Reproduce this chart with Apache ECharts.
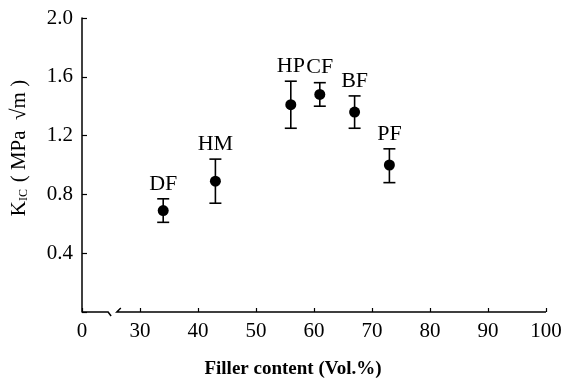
<!DOCTYPE html>
<html>
<head>
<meta charset="utf-8">
<script src="https://cdn.jsdelivr.net/npm/echarts@6/dist/echarts.min.js"></script>
<style>
  html, body { margin: 0; padding: 0; background: #fff; }
  #chart { width: 576px; height: 384px; }
</style>
</head>
<body>
<div id="chart"></div>
<script>
// filler types, filler content (vol.%) and fracture toughness K_IC (MPa sqrt m)
var fillers = ['DF', 'HM', 'HP', 'CF', 'BF', 'PF'];
var content = [34, 43, 56, 61, 67, 73];
var kic = [0.69, 0.89, 1.41, 1.48, 1.36, 1.00];
var kicLow = [0.61, 0.74, 1.25, 1.40, 1.25, 0.88];
var kicHigh = [0.77, 1.04, 1.57, 1.56, 1.47, 1.11];
var xTicks = [20, 30, 40, 50, 60, 70, 80, 90, 100];
var yTicks = [0, 0.4, 0.8, 1.2, 1.6, 2.0];
// where the x axis is broken (the part between 0 and 30 is left out)
var xBreak = [24.5, 26.0];

var font = 'Liberation Serif';
var points = [];
var bars = [];
for (var i = 0; i < fillers.length; i++) {
  points.push([content[i], kic[i]]);
  bars.push([content[i], kicLow[i], kicHigh[i], fillers[i]]);
}

var chart = echarts.init(document.getElementById('chart'));
var option = {
  animation: false,
  grid: { left: 82, right: 30, top: 18, bottom: 70 },
  xAxis: {
    type: 'value',
    min: xTicks[0],
    max: xTicks[xTicks.length - 1],
    interval: 10,
    name: 'Filler content (Vol.%)',
    nameLocation: 'middle',
    nameGap: 48,
    nameTextStyle: {
      fontFamily: font, fontSize: 19, fontWeight: 'bold', color: '#000',
      padding: [0, 42, 0, 0]
    },
    axisLine: { show: false },
    axisTick: { inside: true, length: 4, lineStyle: { color: '#000', width: 1.2 } },
    axisLabel: {
      fontFamily: font, fontSize: 21, color: '#000', margin: 9,
      formatter: function(v) { return v === xTicks[0] ? '0' : String(v); }
    },
    splitLine: { show: false }
  },
  yAxis: {
    type: 'value',
    min: yTicks[0],
    max: yTicks[yTicks.length - 1],
    interval: 0.4,
    name: '{k|K}{s|IC}  {n|( MPa  √m )}',
    nameLocation: 'middle',
    nameGap: 52,
    nameRotate: 90,
    nameTextStyle: {
      color: '#000',
      padding: [0, 0, 0, 34],
      rich: {
        k: { fontFamily: font, fontSize: 21, color: '#000' },
        s: { fontFamily: font, fontSize: 12, color: '#000', padding: [8, 0, 0, 0] },
        n: { fontFamily: font, fontSize: 21, color: '#000' }
      }
    },
    axisLine: { show: true, lineStyle: { color: '#000', width: 1.5 } },
    axisTick: { inside: true, length: 5, lineStyle: { color: '#000', width: 1.2 } },
    axisLabel: {
      fontFamily: font, fontSize: 21, color: '#000', margin: 9,
      formatter: function(v) { return v === 0 ? '' : v.toFixed(1); }
    },
    splitLine: { show: false }
  },
  series: [
    {
      type: 'custom',
      data: bars,
      z: 2,
      renderItem: function(params, api) {
        var top = api.coord([api.value(0), api.value(2)]);
        var bot = api.coord([api.value(0), api.value(1)]);
        var w = 6;
        var st = { stroke: '#000', lineWidth: 1.6 };
        return {
          type: 'group',
          children: [
            { type: 'line', shape: { x1: top[0], y1: top[1], x2: bot[0], y2: bot[1] }, style: st },
            { type: 'line', shape: { x1: top[0] - w, y1: top[1], x2: top[0] + w, y2: top[1] }, style: st },
            { type: 'line', shape: { x1: bot[0] - w, y1: bot[1], x2: bot[0] + w, y2: bot[1] }, style: st },
            {
              type: 'text',
              style: {
                x: top[0], y: top[1] - 4,
                text: api.value(3),
                font: '22px "' + font + '"',
                fill: '#000',
                align: 'center',
                verticalAlign: 'bottom'
              }
            }
          ]
        };
      }
    },
    {
      type: 'scatter',
      data: points,
      symbol: 'circle',
      symbolSize: 11,
      z: 3,
      itemStyle: { color: '#000', opacity: 1 }
    }
  ]
};
chart.setOption(option);

// x axis line with the break mark
var y0 = chart.convertToPixel({ gridIndex: 0 }, [xTicks[0], 0]);
var pA = chart.convertToPixel({ gridIndex: 0 }, [xBreak[0], 0]);
var pB = chart.convertToPixel({ gridIndex: 0 }, [xBreak[1], 0]);
var pEnd = chart.convertToPixel({ gridIndex: 0 }, [xTicks[xTicks.length - 1], 0]);
var ls = { stroke: '#000', lineWidth: 1.5, fill: null };
chart.setOption({
  graphic: [
    { type: 'polyline', shape: { points: [[y0[0], y0[1]], [pA[0], pA[1]], [pA[0] + 3, pA[1] + 4]] }, style: ls },
    { type: 'polyline', shape: { points: [[pB[0] + 4, pB[1] - 4], [pB[0], pB[1]], [pEnd[0], pEnd[1]]] }, style: ls }
  ]
});
</script>
</body>
</html>
